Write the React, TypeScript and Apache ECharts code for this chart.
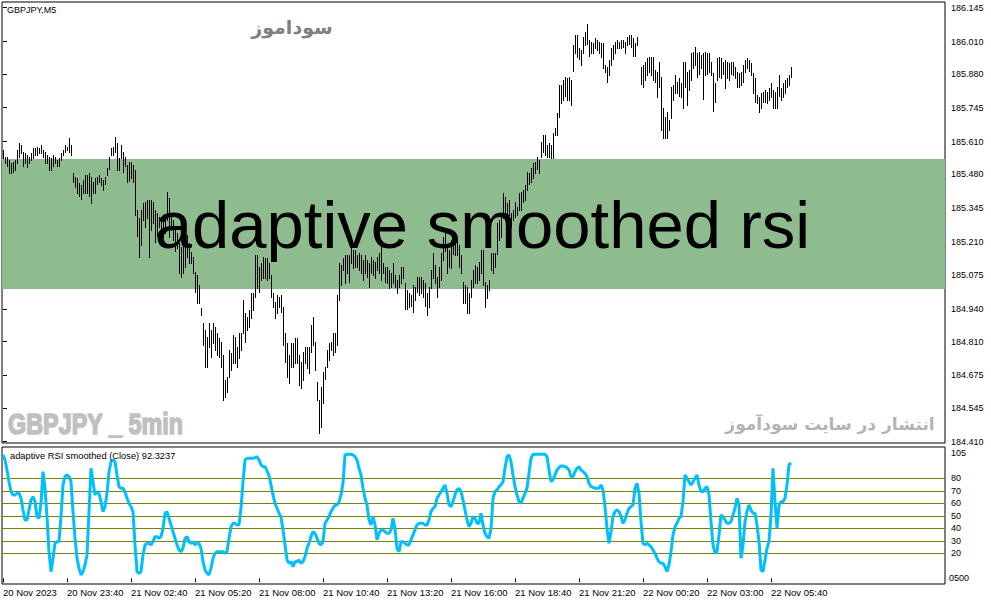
import React, { useEffect, useRef } from "react";
import * as echarts from "echarts";

const highs: (number | null)[] = [
  185.576, 185.548, 185.548, 185.536, 185.524, 185.528, 185.536, 185.576, 185.604, 185.596,
  185.568, 185.564, 185.556, 185.548, 185.564, 185.584, 185.584, 185.588, 185.584, 185.596,
  185.576, 185.568, 185.556, 185.548, 185.544, 185.556, 185.548, 185.536, 185.544, 185.564,
  185.576, 185.596, 185.588, 185.624, 185.596, 185.484, 185.468, 185.464, 185.444, 185.436,
  185.456, 185.476, 185.476, 185.484, 185.468, 185.448, 185.464, 185.468, 185.476, 185.464,
  185.456, 185.468, 185.504, 185.548, 185.584, 185.588, 185.628, 185.604, 185.544, 185.596,
  185.568, 185.548, 185.516, 185.528, 185.528, 185.516, 185.496, 185.336, 185.304, 185.336,
  185.364, 185.368, 185.376, 185.376, 185.376, 185.368, 185.336, 185.324, 185.308, 185.296,
  185.296, 185.296, 185.408, 185.384, 185.308, 185.296, 185.268, 185.244, 185.204, 185.188,
  185.204, 185.208, 185.236, 185.204, 185.168, 185.148, 185.088, 185.076, 185.036, 184.944,
  184.884, 184.856, 184.828, 184.884, 184.856, 184.884, 184.868, 184.844, 184.824, 184.808,
  184.756, 184.656, 184.668, 184.776, 184.764, 184.836, 184.828, 184.788, 184.844, 184.844,
  184.976, 184.924, 184.908, 184.936, 185.004, 185.004, 185.156, 185.156, 185.108, 185.124,
  185.148, 185.144, 185.144, 185.124, 185.076, 185.004, 184.968, 184.996, 184.988, 184.996,
  184.948, 184.844, 184.804, 184.756, 184.804, 184.804, 184.824, 184.824, 184.756, 184.728,
  184.768, 184.788, 184.788, 184.788, 184.876, 184.908, 184.808, 184.648, 184.576, 184.628,
  184.688, 184.708, 184.776, 184.804, 184.808, 184.844, 184.844, 184.996, 185.124, 185.116,
  185.144, 185.156, 185.156, 185.156, 185.216, 185.176, 185.176, 185.156, 185.164, 185.156,
  185.136, 185.156, 185.136, 185.124, 185.148, 185.136, 185.128, 185.148, 185.164, 185.188,
  185.124, 185.108, 185.108, 185.096, 185.084, 185.124, 185.076, 185.056, 185.076, 185.108,
  185.108, 185.044, 185.016, 185.004, 184.996, 185.036, 185.028, 185.068, 185.068, 185.068,
  185.056, 185.044, 185.004, 185.028, 185.096, 185.164, 185.116, 185.068, 185.108, 185.164,
  185.228, 185.244, 185.196, 185.176, 185.216, 185.248, 185.216, 185.228, 185.196, 185.156,
  185.048, 185.036, 185.028, 185.004, 185.056, 185.096, 185.116, 185.108, 185.128, 185.176,
  185.176, 185.048, 185.036, 185.056, 185.164, 185.164, 185.164, 185.284, 185.296, 185.308,
  185.404, 185.388, 185.364, 185.376, 185.324, 185.336, 185.368, 185.348, 185.404, 185.408,
  185.416, 185.436, 185.488, 185.484, 185.504, 185.524, 185.528, 185.548, 185.536, 185.608,
  185.636, 185.636, 185.596, 185.604, 185.596, 185.644, 185.664, 185.724, 185.836, 185.836,
  185.856, 185.868, 185.864, 185.868, 185.856, 185.996, 186.036, 186.036, 185.984, 185.976,
  186.028, 186.048, 186.080, 186.016, 186.008, 186.004, 186.024, 186.016, 186.008, 186.004,
  186.004, 185.916, 185.908, 185.936, 185.984, 185.996, 186.008, 186.016, 186.008, 186.016,
  186.016, 186.008, 186.028, 186.036, 186.036, 186.024, 186.004, 186.028, null, 185.908,
  185.916, 185.928, 185.944, 185.948, 185.948, 185.948, 185.896, 185.888, 185.928, 185.868,
  185.744, 185.708, 185.728, 185.696, 185.828, 185.836, 185.876, 185.848, 185.864, 185.844,
  185.928, 185.928, 185.888, 185.896, 185.964, 185.968, 185.988, 185.964, 185.968, 185.956,
  185.964, 185.968, 185.964, 185.964, 185.928, 185.884, 185.844, 185.944, 185.948, 185.944,
  185.928, 185.936, 185.928, 185.924, 185.928, 185.928, 185.908, 185.888, 185.884, 185.888,
  185.916, 185.936, 185.944, 185.936, 185.924, 185.884, 185.864, 185.796, 185.788, 185.804,
  185.808, 185.816, 185.808, 185.824, 185.844, 185.816, 185.808, 185.828, 185.876, 185.824,
  185.844, 185.856, 185.864, 185.876, 185.908,
];

const lows: (number | null)[] = [
  185.544, 185.528, 185.516, 185.484, 185.484, 185.488, 185.496, 185.528, 185.548, 185.564,
  185.516, 185.524, 185.508, 185.528, 185.536, 185.544, 185.556, 185.556, 185.564, 185.564,
  185.548, 185.528, 185.524, 185.496, 185.496, 185.516, 185.524, 185.516, 185.516, 185.536,
  185.556, 185.568, 185.576, 185.568, 185.556, 185.448, 185.428, 185.404, 185.396, 185.384,
  185.408, 185.408, 185.404, 185.396, 185.364, 185.408, 185.404, 185.444, 185.448, 185.436,
  185.416, 185.444, 185.476, 185.504, 185.556, 185.556, 185.568, 185.496, 185.496, 185.544,
  185.488, 185.516, 185.448, 185.456, 185.464, 185.448, 185.316, 185.236, 185.148, 185.196,
  185.296, 185.268, 185.304, 185.148, 185.256, 185.284, 185.208, 185.236, 185.268, 185.256,
  185.228, 185.244, 185.296, 185.228, 185.256, 185.216, 185.176, 185.188, 185.084, 185.068,
  185.084, 185.108, 185.148, 185.128, 185.124, 185.084, 185.008, 184.964, 184.964, 184.916,
  184.796, 184.708, 184.708, 184.788, 184.748, 184.804, 184.776, 184.756, 184.748, 184.708,
  184.576, 184.588, 184.608, 184.668, 184.696, 184.724, 184.724, 184.708, 184.744, 184.776,
  184.844, 184.808, 184.856, 184.868, 184.908, 184.936, 184.988, 185.024, 185.008, 185.056,
  185.064, 185.064, 185.056, 185.064, 184.988, 184.948, 184.908, 184.924, 184.948, 184.928,
  184.796, 184.728, 184.668, 184.644, 184.708, 184.708, 184.724, 184.724, 184.636, 184.624,
  184.656, 184.724, 184.704, 184.684, 184.768, 184.796, 184.696, 184.576, 184.444, 184.468,
  184.564, 184.664, 184.708, 184.736, 184.776, 184.756, 184.768, 184.796, 184.976, 185.036,
  185.096, 185.044, 185.084, 185.048, 185.124, 185.104, 185.108, 185.108, 185.096, 185.084,
  185.056, 185.084, 185.068, 185.028, 185.084, 185.076, 185.064, 185.096, 185.084, 185.056,
  185.084, 185.048, 185.044, 185.024, 185.028, 185.044, 185.028, 185.004, 185.028, 185.044,
  185.064, 184.944, 184.944, 184.948, 184.956, 184.928, 184.976, 185.008, 184.996, 185.004,
  184.988, 184.956, 184.916, 184.948, 185.024, 185.064, 185.044, 184.988, 185.028, 185.056,
  185.136, 185.176, 185.084, 185.108, 185.104, 185.164, 185.156, 185.156, 185.108, 185.084,
  184.964, 184.964, 184.924, 184.924, 184.988, 185.028, 185.044, 185.044, 185.056, 185.084,
  185.036, 184.948, 184.984, 185.016, 185.096, 185.084, 185.108, 185.164, 185.216, 185.228,
  185.304, 185.328, 185.296, 185.316, 185.268, 185.296, 185.308, 185.316, 185.336, 185.336,
  185.368, 185.376, 185.416, 185.444, 185.448, 185.468, 185.484, 185.504, 185.484, 185.548,
  185.568, 185.556, 185.548, 185.548, 185.544, 185.544, 185.636, 185.636, 185.708, 185.764,
  185.776, 185.796, 185.776, 185.776, 185.756, 185.896, 185.968, 185.948, 185.944, 185.916,
  185.964, 185.996, 186.004, 185.956, 185.964, 185.964, 185.984, 185.976, 185.964, 185.948,
  185.908, 185.888, 185.848, 185.876, 185.916, 185.944, 185.968, 185.984, 185.984, 185.984,
  185.988, 185.968, 185.996, 186.004, 185.988, 185.956, 185.956, 185.996, null, 185.844,
  185.828, 185.856, 185.876, 185.888, 185.876, 185.856, 185.848, 185.788, 185.828, 185.656,
  185.628, 185.624, 185.628, 185.656, 185.704, 185.776, 185.808, 185.804, 185.796, 185.788,
  185.744, 185.828, 185.756, 185.816, 185.856, 185.904, 185.916, 185.868, 185.884, 185.904,
  185.784, 185.876, 185.884, 185.888, 185.876, 185.736, 185.768, 185.856, 185.868, 185.864,
  185.884, 185.824, 185.864, 185.856, 185.884, 185.876, 185.864, 185.828, 185.828, 185.836,
  185.848, 185.888, 185.904, 185.896, 185.876, 185.808, 185.768, 185.764, 185.728, 185.748,
  185.768, 185.768, 185.764, 185.776, 185.788, 185.748, 185.744, 185.748, 185.796, 185.776,
  185.788, 185.808, 185.828, 185.836, 185.868,
];

const rsi: number[] = [
  98.7, 94.7, 86.7, 77.3, 69.3, 66.7, 66.7, 68, 68, 64,
  54.7, 46.7, 46.7, 54.7, 62.7, 65.3, 61.3, 49.3, 48, 60,
  85.3, 72, 49.3, 21.3, 5.3, 16, 28, 29.3, 29.3, 49.3,
  74.7, 81.3, 82.7, 81.3, 77.3, 53.3, 32, 16, 8, 2.7,
  5.3, 10.7, 18.7, 53.3, 88, 77.3, 66.7, 69.3, 68, 61.3,
  53.3, 57.3, 68, 85.3, 93.3, 94.7, 93.3, 82.7, 73.3, 72,
  72, 69.3, 64, 60, 57.3, 53.3, 26.7, 5.3, 4, 5.3,
  18.7, 26.7, 28, 28, 26.7, 29.3, 33.3, 33.3, 32, 33.3,
  40, 52, 53.3, 48, 42.7, 37.3, 32, 26.7, 22.7, 21.3,
  24, 32, 33.3, 29.3, 28, 29.3, 26.7, 28, 28, 24,
  13.3, 6.7, 4, 2.7, 8, 16, 20, 21.3, 21.3, 21.3,
  21.3, 20, 21.3, 32, 41.3, 44, 44, 42.7, 42.7, 56,
  77.3, 94.7, 96, 96, 96, 96, 96.5, 97.3, 94.7, 90.7,
  89.3, 89.3, 86, 82, 74.7, 66.7, 60, 56, 52, 49.3,
  38.7, 26.7, 14.7, 12, 13.3, 9.3, 13.3, 13.3, 14.7, 12,
  13.3, 17.3, 24, 28, 33.3, 37.3, 36, 32, 28, 26.7,
  29.3, 44, 46.7, 49.3, 53.3, 56, 58.7, 58.7, 61.3, 66.7,
  76, 98.7, 99.2, 99.2, 99.2, 98.7, 97.3, 94.7, 88, 82.7,
  72, 64, 58.7, 46.7, 42.7, 49.3, 42.7, 30.7, 36, 38.7,
  38.7, 37.3, 36, 36, 38.7, 48, 40, 24, 21.3, 29.3,
  29.3, 28, 26.7, 26.7, 30.7, 34.7, 38.7, 42.7, 44, 44,
  44, 42.7, 42.7, 46.7, 53.3, 56, 57.3, 64, 66.7, 69.3,
  72, 74.7, 68, 58.7, 57.3, 61.3, 66.7, 70.7, 72, 69.3,
  62.7, 54.7, 46.7, 41.3, 44, 49.3, 48, 44, 44, 52,
  42.7, 36, 33.3, 32, 40, 64, 69.3, 70.7, 73.3, 74.7,
  77.3, 88, 97.3, 98.7, 93.3, 82.7, 73.3, 66.7, 61.3, 60,
  64, 68, 72, 84, 96, 99.2, 99.2, 99.2, 99.2, 99.2,
  99.2, 99.2, 97.3, 86.7, 77.3, 78.7, 82.7, 86.7, 88.5, 89.9,
  89.9, 89.3, 88.5, 86.7, 81.3, 81.3, 85.3, 88, 89.3, 86.7,
  85.3, 84, 81.3, 76, 73.3, 72.8, 72, 72, 72, 74.7,
  70.7, 57.3, 40, 28, 37.3, 49.3, 53.3, 54.7, 53.3, 49.3,
  44, 46.7, 52, 56, 57.3, 58.7, 72, 76, 68, 45.3,
  28, 26.7, 28, 26.7, 25.3, 22.7, 20, 16, 13.3, 12,
  12, 9.3, 5.3, 10.7, 21.3, 34.7, 41.3, 44, 48, 49.3,
  61.3, 82.7, 80, 77.3, 74.7, 77.3, 80, 82.7, 74.7, 69.3,
  69.3, 72, 73.3, 66.7, 45.3, 26.7, 20, 21.3, 34.7, 50.7,
  49.3, 46.7, 44, 44, 45.3, 50.7, 56, 64, 58.7, 16,
  26.7, 45.3, 53.3, 58.7, 54.7, 52, 52, 42.7, 29.3, 6.7,
  5.3, 14.7, 24, 29.3, 50.7, 88, 61.3, 40, 58.7, 61.3,
  61.3, 64, 74.7, 90.7, 92.3237,
];

const timeLabels = [
  "20 Nov 2023", "20 Nov 23:40", "21 Nov 02:40", "21 Nov 05:20", "21 Nov 08:00",
  "21 Nov 10:40", "21 Nov 13:20", "21 Nov 16:00", "21 Nov 18:40", "21 Nov 21:20",
  "22 Nov 00:20", "22 Nov 03:00", "22 Nov 05:40",
];
const timeLabelBars = [0, 32, 64, 96, 128, 160, 192, 224, 256, 288, 320, 352, 384];

const priceTicks = [
  184.41, 184.545, 184.675, 184.81, 184.94, 185.075, 185.21,
  185.345, 185.48, 185.61, 185.745, 185.88, 186.01, 186.145,
];
const rsiLevels = [80, 70, 60, 50, 40, 30, 20];
const bandTop = 185.54;
const bandBottom = 185.02;

const FONT = '"Liberation Sans", Arial, sans-serif';

export default function App() {
  const ref = useRef<HTMLDivElement>(null);

  useEffect(() => {
    if (!ref.current) return;
    const chart = echarts.init(ref.current, null, { renderer: "svg" });

    const barData: number[][] = [];
    highs.forEach((h, i) => {
      const l = lows[i];
      if (h != null && l != null) barData.push([i, h, l]);
    });
    const rsiData = rsi.map((v, i) => [i, v]);

    const option: any = {
      animation: false,
      backgroundColor: "#ffffff",
      grid: [
        { left: 2, top: 2, width: 943, height: 441, show: true, borderColor: "#000", borderWidth: 1, backgroundColor: "transparent" },
        { left: 2, top: 447, width: 943, height: 137, show: true, borderColor: "#000", borderWidth: 1, backgroundColor: "transparent" },
      ],
      xAxis: [
        { type: "value", gridIndex: 0, min: -0.5, max: 471, show: false },
        {
          type: "value", gridIndex: 1, min: -0.5, max: 471,
          axisLine: { show: false },
          splitLine: { show: false },
          axisTick: { show: true, customValues: timeLabelBars, length: 4, lineStyle: { color: "#000", width: 1 } },
          axisLabel: {
            customValues: timeLabelBars,
            formatter: (v: number) => {
              const k = timeLabelBars.indexOf(Math.round(v));
              return k >= 0 ? timeLabels[k] : "";
            },
            align: "left",
            margin: 3,
            fontSize: 9.5,
            fontFamily: FONT,
            color: "#000",
            hideOverlap: false,
          },
        },
      ],
      yAxis: [
        {
          type: "value", gridIndex: 0, position: "right", min: 184.404, max: 186.168,
          axisLine: { show: false },
          splitLine: { show: false },
          axisTick: { show: true, customValues: priceTicks, length: 4, lineStyle: { color: "#000", width: 1 } },
          axisLabel: {
            customValues: priceTicks,
            formatter: (v: number) => v.toFixed(3),
            margin: 6,
            fontSize: 9,
            fontFamily: FONT,
            color: "#000",
          },
        },
        {
          type: "value", gridIndex: 1, position: "right", min: -4.56, max: 105.04,
          axisLine: { show: false },
          splitLine: { show: false },
          axisTick: { show: true, customValues: rsiLevels, length: 4, lineStyle: { color: "#808000", width: 1 } },
          axisLabel: {
            customValues: rsiLevels,
            formatter: (v: number) => String(Math.round(v)),
            margin: 6,
            fontSize: 9,
            fontFamily: FONT,
            color: "#000",
          },
        },
      ],
      series: [
        {
          type: "line",
          xAxisIndex: 0,
          yAxisIndex: 0,
          data: [],
          z: 1,
          silent: true,
          markArea: {
            silent: true,
            itemStyle: { color: "#8FBC8F", opacity: 1 },
            label: { show: false },
            data: [[{ yAxis: bandTop }, { yAxis: bandBottom }]],
          },
        },
        {
          type: "custom",
          xAxisIndex: 0,
          yAxisIndex: 0,
          z: 3,
          silent: true,
          data: barData,
          encode: { x: 0, y: [1, 2] },
          clip: true,
          renderItem: (params: any, api: any) => {
            const i = api.value(0);
            const hi = api.value(1);
            const lo = api.value(2);
            const p1 = api.coord([i, hi]);
            const p2 = api.coord([i, lo]);
            const x = Math.floor(p1[0]) + 0.5;
            return {
              type: "line",
              shape: { x1: x, y1: Math.floor(p1[1]), x2: x, y2: Math.ceil(p2[1]) + 1 },
              style: { stroke: "#000", lineWidth: 1 },
            };
          },
        },
        {
          type: "line",
          xAxisIndex: 1,
          yAxisIndex: 1,
          data: rsiData,
          showSymbol: false,
          symbol: "none",
          z: 4,
          silent: true,
          lineStyle: { color: "#00BFFF", width: 3 },
          markLine: {
            silent: true,
            symbol: ["none", "none"],
            label: { show: false },
            lineStyle: { color: "#808000", width: 1, type: "solid" },
            data: rsiLevels.map((v) => ({ yAxis: v })),
            z: 2,
          },
        },
      ],
      graphic: {
        elements: [
          {
            type: "text", silent: true, z: 10,
            style: { text: "GBPJPY,M5", x: 7, y: 5, font: `9px ${FONT}`, fill: "#000", align: "left", verticalAlign: "top", textAlign: "left", textVerticalAlign: "top" },
          },
          {
            type: "text", silent: true, z: 10,
            style: { text: "سوداموز", x: 292, y: 27, font: `bold 19px "DejaVu Sans", sans-serif`, fill: "#808080", align: "center", verticalAlign: "middle", textAlign: "center", textVerticalAlign: "middle" },
          },
          {
            type: "text", silent: true, z: 10,
            style: { text: "adaptive smoothed rsi", x: 482.5, y: 224, font: `67px ${FONT}`, fill: "#000", align: "center", verticalAlign: "middle", textAlign: "center", textVerticalAlign: "middle" },
          },
          {
            type: "text", silent: true, z: 10,
            x: 8, y: 424, scaleX: 0.78, scaleY: 1,
            style: { text: "GBPJPY _ 5min", x: 0, y: 0, font: `bold 30px ${FONT}`, fill: "#c0c0c0", stroke: "#c0c0c0", lineWidth: 1.6, align: "left", verticalAlign: "middle", textAlign: "left", textVerticalAlign: "middle" },
          },
          {
            type: "text", silent: true, z: 10,
            style: { text: "انتشار در سایت سودآموز", x: 830, y: 424, font: `bold 17px "DejaVu Sans", sans-serif`, fill: "#b4b4b4", align: "center", verticalAlign: "middle", textAlign: "center", textVerticalAlign: "middle" },
          },
          {
            type: "text", silent: true, z: 10,
            style: { text: "adaptive RSI smoothed (Close) 92.3237", x: 10, y: 451, font: `9.3px ${FONT}`, fill: "#000", align: "left", verticalAlign: "top", textAlign: "left", textVerticalAlign: "top" },
          },
          {
            type: "text", silent: true, z: 10,
            style: { text: "105", x: 951, y: 448, font: `9px ${FONT}`, fill: "#000", align: "left", verticalAlign: "top", textAlign: "left", textVerticalAlign: "top" },
          },
          {
            type: "text", silent: true, z: 10,
            style: { text: "0500", x: 949, y: 578, font: `9px ${FONT}`, fill: "#000", align: "left", verticalAlign: "middle", textAlign: "left", textVerticalAlign: "middle" },
          },
        ],
      },
    };

    chart.setOption(option);
    return () => chart.dispose();
  }, []);

  return (
    <div
      ref={ref}
      style={{ position: "fixed", left: 0, top: 0, width: 991, height: 605, background: "#fff" }}
    />
  );
}
